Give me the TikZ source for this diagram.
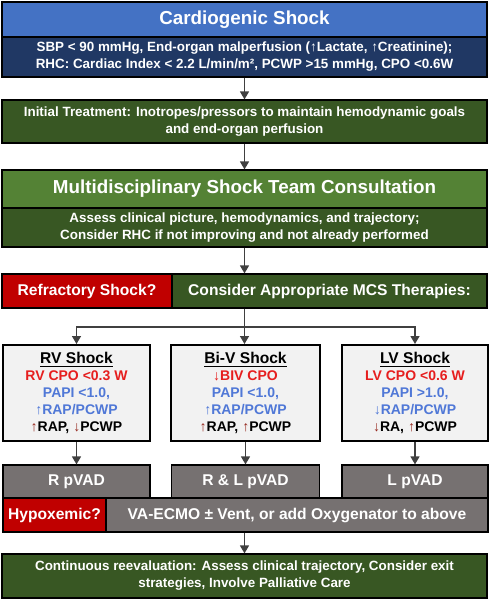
\documentclass[tikz,border=0pt]{standalone}
\usepackage{fontspec}
\setmainfont{Liberation Sans}
\usetikzlibrary{arrows.meta, positioning, calc}

\definecolor{csblue}{RGB}{68,114,196}
\definecolor{csnavy}{RGB}{32,56,100}
\definecolor{csdkgreen}{RGB}{56,87,35}
\definecolor{csgreen}{RGB}{84,130,53}
\definecolor{csred}{RGB}{192,0,0}
\definecolor{csgray}{RGB}{118,113,113}
\definecolor{cpored}{RGB}{230,30,30}
\definecolor{papiblue}{RGB}{80,120,215}
\definecolor{uparrow}{RGB}{150,40,30}

\begin{document}
\begin{tikzpicture}[
    x=0.5pt, y=-0.5pt,
    box/.style={rectangle, draw=black, line width=0.6pt, inner sep=0pt, align=center, text=white},
    bigtext/.style={font=\bfseries\fontsize{9.4}{11}\selectfont},
    smalltext/.style={font=\bfseries\fontsize{6.7}{8.5}\selectfont},
    midtext/.style={font=\bfseries\fontsize{7.8}{9}\selectfont},
    shockbox/.style={box, line width=1pt, fill=gray!10, text=black, minimum height=48pt, font=\bfseries\fontsize{7}{8.5}\selectfont},
    devbox/.style={box, fill=csgray, minimum height=16.5pt, midtext},
    arrow/.style={-{Triangle[length=4pt, width=4.5pt]}, line width=0.7pt, draw=black!75},
    link/.style={line width=0.7pt, draw=black!75}
]
\useasboundingbox (0,0) rectangle (491,600);

% Header
\node[box, fill=csblue, minimum width=242.5pt, minimum height=17.5pt, bigtext] (title) at (244.5,19.5) {Cardiogenic Shock};
\node[box, fill=csnavy, minimum width=242.5pt, minimum height=20pt, smalltext] (crit) at (244.5,57) {SBP < 90 mmHg, End-organ malperfusion (↑Lactate, ↑Creatinine);\\RHC: Cardiac Index < 2.2 L/min/m², PCWP >15 mmHg, CPO <0.6W};

% Treatment and team
\node[box, fill=csdkgreen, minimum width=242.5pt, minimum height=21.5pt, smalltext] (init) at (244.5,121.5) {Initial Treatment: Inotropes/pressors to maintain hemodynamic goals\\and end-organ perfusion};
\node[box, fill=csgreen, minimum width=242.5pt, minimum height=19pt, bigtext] (team) at (244.5,189) {Multidisciplinary Shock Team Consultation};
\node[box, fill=csdkgreen, minimum width=242.5pt, minimum height=19.5pt, smalltext] (assess) at (244.5,227.5) {Assess clinical picture, hemodynamics, and trajectory;\\Consider RHC if not improving and not already performed};

% Refractory row
\node[box, fill=csred, minimum width=85pt, minimum height=17pt, midtext] (refr) at (87,291) {Refractory Shock?};
\node[box, fill=csdkgreen, minimum width=157.5pt, minimum height=17pt, midtext] (mcs) at (329.5,291) {Consider Appropriate MCS Therapies:};

% Shock types
\node[shockbox, minimum width=73.5pt] (rv) at (76.5,393) {{\fontsize{7.8}{9}\selectfont\underline{RV Shock}}\\\textcolor{cpored}{RV CPO <0.3 W}\\\textcolor{papiblue}{PAPI <1.0,}\\\textcolor{papiblue}{↑RAP/PCWP}\\\textcolor{uparrow}{↑}RAP, \textcolor{uparrow}{↓}PCWP};
\node[shockbox, minimum width=74.5pt] (biv) at (245.5,393) {{\fontsize{7.8}{9}\selectfont\underline{Bi-V Shock}}\\\textcolor{cpored}{↓BIV CPO}\\\textcolor{papiblue}{PAPI <1.0,}\\\textcolor{papiblue}{↑RAP/PCWP}\\\textcolor{uparrow}{↑}RAP, \textcolor{uparrow}{↑}PCWP};
\node[shockbox, minimum width=73pt] (lv) at (415,393) {{\fontsize{7.8}{9}\selectfont\underline{LV Shock}}\\\textcolor{cpored}{LV CPO <0.6 W}\\\textcolor{papiblue}{PAPI >1.0,}\\\textcolor{papiblue}{↓RAP/PCWP}\\\textcolor{uparrow}{↓}RA, \textcolor{uparrow}{↑}PCWP};

% Devices
\node[devbox, minimum width=73.5pt] (rpvad) at (76.5,481.5) {R pVAD};
\node[devbox, minimum width=74pt] (rlpvad) at (245.5,481.5) {R \& L pVAD};
\node[devbox, minimum width=73pt] (lpvad) at (415,481.5) {L pVAD};
\node[box, fill=csred, minimum width=51.5pt, minimum height=17pt, midtext] (hypo) at (54.5,515) {Hypoxemic?};
\node[box, fill=csgray, minimum width=191pt, minimum height=17pt, midtext] (ecmo) at (297,515) {VA-ECMO ± Vent, or add Oxygenator to above};

% Follow-up
\node[box, fill=csdkgreen, minimum width=242.5pt, minimum height=22pt, smalltext] (final) at (244.5,576) {Continuous reevaluation: Assess clinical trajectory, Consider exit\\strategies, Involve Palliative Care};

% Paths
\draw[arrow] (crit) -- (init);
\draw[arrow] (init) -- (team);
\draw[arrow] (assess.south) -- (assess.south |- mcs.north);
\coordinate (split) at (244.5,327);
\draw[link] (assess.south |- mcs.south) -- (split);
\draw[arrow] (split) -| (rv.north);
\draw[arrow] (split) -| (lv.north);
\draw[arrow] (split) -- (split |- biv.north);
\draw[arrow] (rv) -- (rpvad);
\draw[arrow] (biv) -- (rlpvad);
\draw[arrow] (lv) -- (lpvad);
\draw[arrow] (ecmo.south -| final.north) -- (final.north);

\end{tikzpicture}
\end{document}
